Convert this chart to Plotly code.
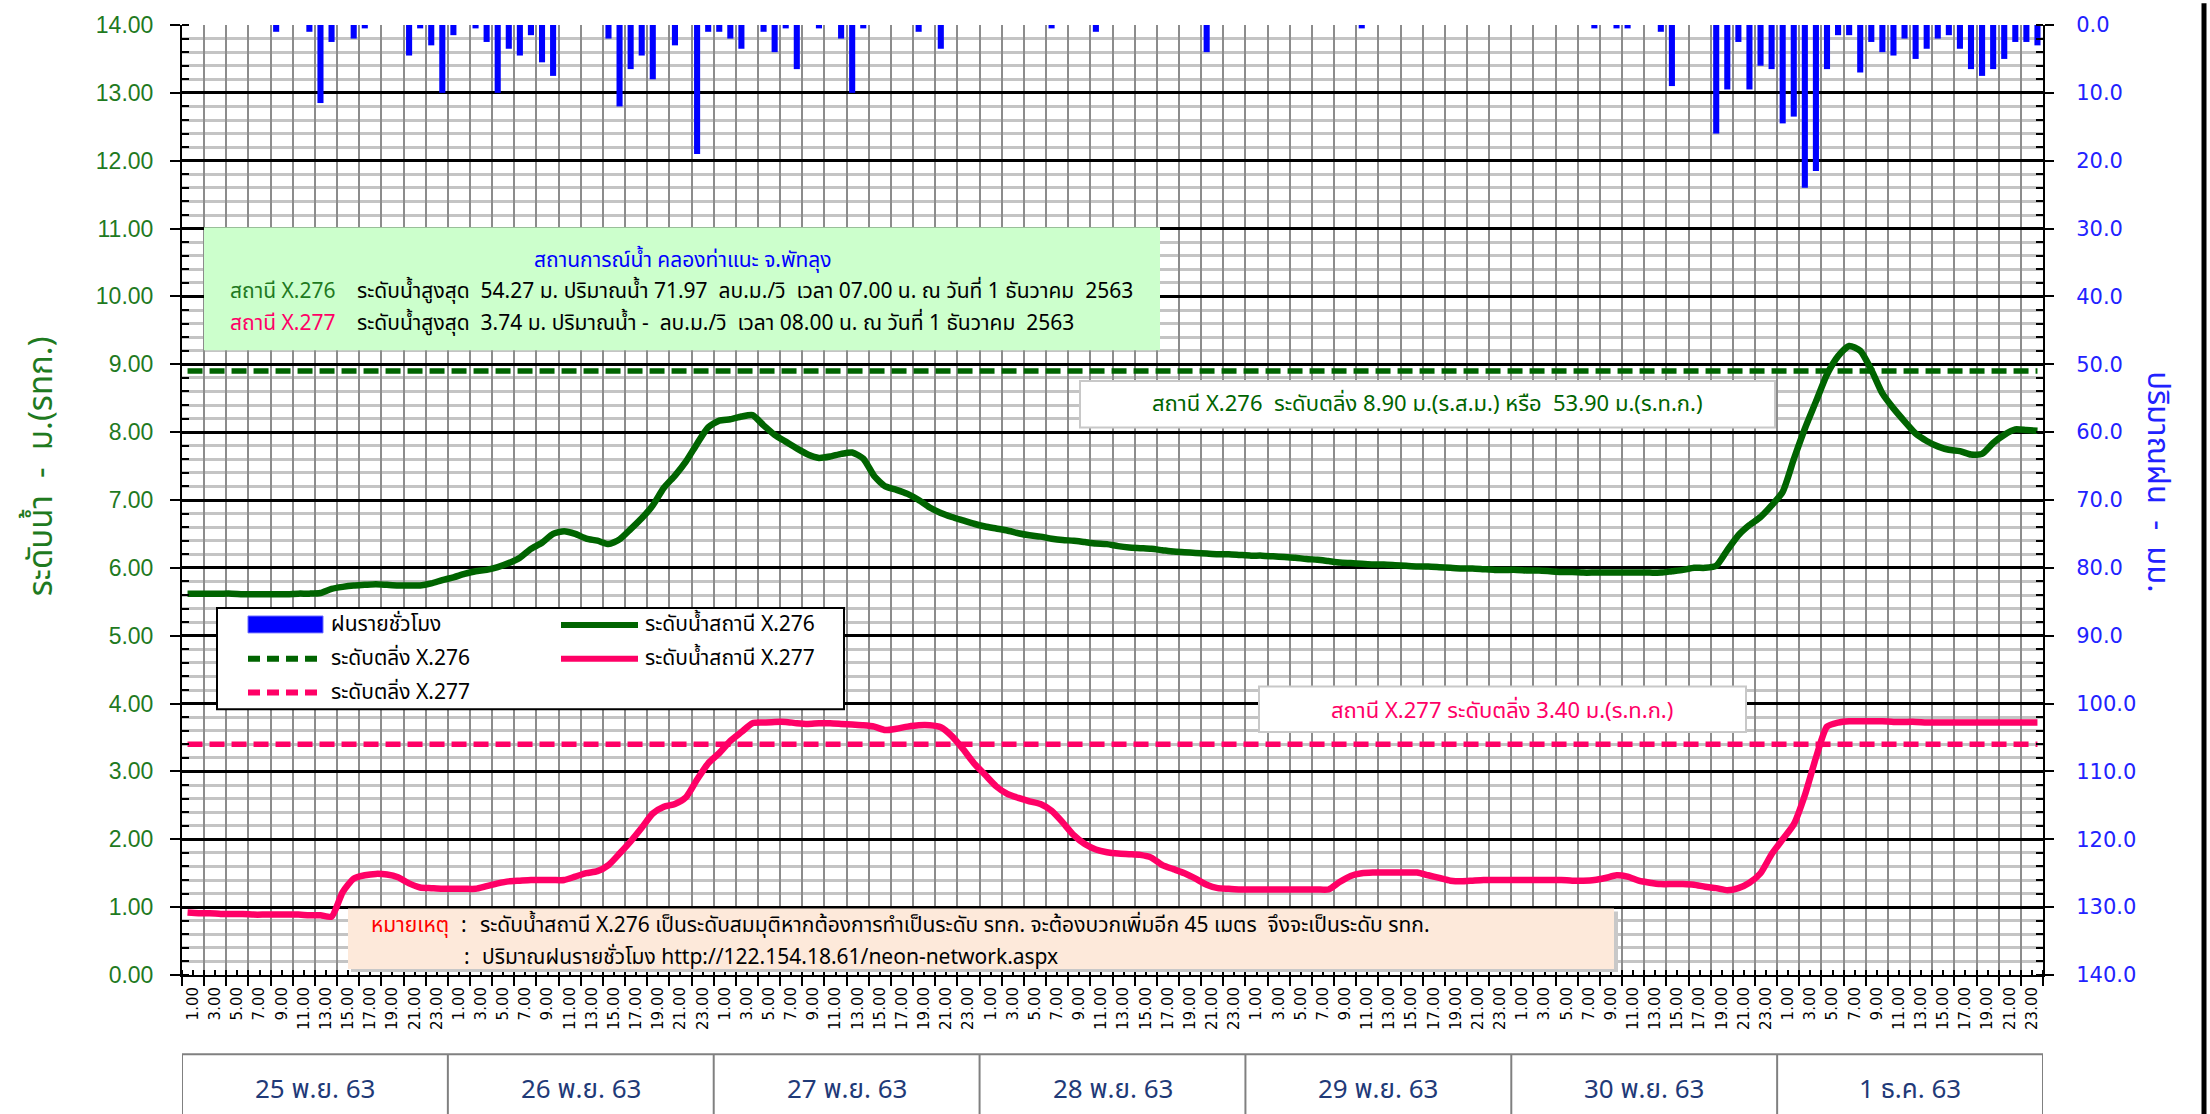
import plotly.graph_objects as go

# ---------------- data ----------------
day_labels = ["25 พ.ย. 63", "26 พ.ย. 63", "27 พ.ย. 63", "28 พ.ย. 63",
              "29 พ.ย. 63", "30 พ.ย. 63", "1 ธ.ค. 63"]
hour_labels = ["1.00", "3.00", "5.00", "7.00", "9.00", "11.00",
               "13.00", "15.00", "17.00", "19.00", "21.00", "23.00"]

# hourly rainfall (mm), 7 days x 24 h
rain = [
    0, 0, 0, 0, 0, 0, 0, 0, 1.0, 0, 0, 1.0, 11.5, 2.5, 0, 2.0, 0.5, 0, 0, 0, 4.5, 0.5, 3.0, 10.0,
    1.5, 0, 0.5, 2.5, 10.0, 3.5, 4.5, 1.5, 5.5, 7.5, 0, 0, 0, 0, 2.0, 12.0, 6.5, 4.5, 8.0, 0, 3.0, 0, 19.0, 1.0,
    1.0, 2.0, 3.5, 0, 1.0, 4.0, 0.5, 6.5, 0, 0.5, 0, 2.0, 10.0, 0.5, 0, 0, 0, 0, 1.0, 0, 3.5, 0, 0, 0,
    0, 0, 0, 0, 0, 0, 0.5, 0, 0, 0, 1.0, 0, 0, 0, 0, 0, 0, 0, 0, 0, 4.0, 0, 0, 0,
    0, 0, 0, 0, 0, 0, 0, 0, 0, 0, 0.5, 0, 0, 0, 0, 0, 0, 0, 0, 0, 0, 0, 0, 0,
    0, 0, 0, 0, 0, 0, 0, 0.5, 0, 0.5, 0.5, 0, 0, 1.0, 9.0, 0, 0, 0, 16.0, 9.5, 2.5, 9.5, 6.0, 6.5,
    14.5, 13.5, 24.0, 21.5, 6.5, 1.5, 1.5, 7.0, 2.5, 4.0, 4.5, 2.0, 5.0, 3.5, 2.0, 1.5, 3.5, 6.5, 7.5, 6.5, 5.0, 2.5, 2.5, 3.0,
]

# water level station X.276 (m)
level_x276 = [
    5.62, 5.62, 5.62, 5.62, 5.62, 5.61, 5.61, 5.61, 5.61, 5.61, 5.62, 5.62, 5.63, 5.69, 5.72, 5.74, 5.75, 5.76, 5.75, 5.74, 5.74, 5.74, 5.77, 5.82,
    5.86, 5.91, 5.95, 5.97, 6.01, 6.07, 6.15, 6.28, 6.37, 6.50, 6.54, 6.50, 6.43, 6.40, 6.35, 6.42, 6.57, 6.73, 6.92, 7.18, 7.36, 7.57, 7.83, 8.07,
    8.17, 8.19, 8.23, 8.25, 8.10, 7.96, 7.86, 7.76, 7.67, 7.62, 7.64, 7.68, 7.70, 7.61, 7.35, 7.20, 7.15, 7.09, 7.00, 6.89, 6.81, 6.75, 6.70, 6.65,
    6.61, 6.58, 6.55, 6.51, 6.48, 6.46, 6.43, 6.41, 6.40, 6.38, 6.36, 6.35, 6.32, 6.30, 6.29, 6.28, 6.26, 6.24, 6.23, 6.22, 6.21, 6.20, 6.20, 6.19,
    6.18, 6.18, 6.17, 6.16, 6.15, 6.13, 6.12, 6.10, 6.08, 6.07, 6.06, 6.05, 6.05, 6.04, 6.03, 6.02, 6.02, 6.01, 6.00, 5.99, 5.99, 5.98, 5.97, 5.97,
    5.97, 5.96, 5.96, 5.95, 5.94, 5.94, 5.93, 5.93, 5.93, 5.93, 5.93, 5.93, 5.93, 5.93, 5.95, 5.97, 6.00, 6.00, 6.03, 6.26, 6.48, 6.63, 6.75, 6.92,
    7.12, 7.60, 8.05, 8.45, 8.85, 9.12, 9.27, 9.20, 8.92, 8.57, 8.35, 8.16, 7.98, 7.87, 7.79, 7.74, 7.72, 7.67, 7.68, 7.84, 7.96, 8.04, 8.03, 8.02,
]

# water level station X.277 (m)
level_x277 = [
    0.92, 0.91, 0.91, 0.90, 0.90, 0.90, 0.89, 0.89, 0.89, 0.89, 0.89, 0.88, 0.88, 0.86, 1.22, 1.42, 1.47, 1.49, 1.48, 1.44, 1.35, 1.29, 1.28, 1.27,
    1.27, 1.27, 1.27, 1.31, 1.35, 1.38, 1.39, 1.40, 1.40, 1.40, 1.40, 1.45, 1.50, 1.53, 1.62, 1.79, 1.97, 2.17, 2.38, 2.48, 2.52, 2.62, 2.88, 3.12,
    3.27, 3.45, 3.58, 3.71, 3.72, 3.73, 3.73, 3.71, 3.70, 3.71, 3.71, 3.70, 3.69, 3.68, 3.66, 3.61, 3.63, 3.66, 3.68, 3.68, 3.65, 3.52, 3.33, 3.12,
    2.95, 2.78, 2.67, 2.61, 2.56, 2.52, 2.42, 2.25, 2.06, 1.93, 1.85, 1.81, 1.79, 1.78, 1.77, 1.73, 1.62, 1.56, 1.50, 1.42, 1.33, 1.28, 1.27, 1.26,
    1.26, 1.26, 1.26, 1.26, 1.26, 1.26, 1.26, 1.26, 1.37, 1.46, 1.50, 1.51, 1.51, 1.51, 1.51, 1.51, 1.47, 1.43, 1.39, 1.38, 1.39, 1.40, 1.40, 1.40,
    1.40, 1.40, 1.40, 1.40, 1.40, 1.39, 1.39, 1.40, 1.43, 1.47, 1.45, 1.39, 1.36, 1.34, 1.34, 1.34, 1.33, 1.30, 1.28, 1.25, 1.28, 1.36, 1.50, 1.78,
    2.00, 2.22, 2.65, 3.20, 3.66, 3.72, 3.74, 3.74, 3.74, 3.74, 3.73, 3.73, 3.73, 3.72, 3.72, 3.72, 3.72, 3.72, 3.72, 3.72, 3.72, 3.72, 3.72, 3.72,
]

bank_x276 = 8.90
bank_x277 = 3.40

hours = list(range(len(rain)))
n_days = len(day_labels)

# ---------------- styling helpers ----------------
L, R, T, B = 182, 2043, 17, 975          # plot area in page pixels
W, H = 2210, 1114

def pxx(x):
    return (x - L) / (R - L)

def pxy(y):
    return (B - y) / (B - T)

THAI = "Noto Sans Thai, Noto Sans, DejaVu Sans, sans-serif"
GREEN = "#006400"
GREEN_TXT = "#1f7a1f"
PINK = "#ff0066"
BLUE = "#0000ff"

fig = go.Figure()

fig.add_trace(go.Bar(x=hours, y=rain, xaxis="x2", yaxis="y2", width=0.55,
                     marker=dict(color=BLUE, line=dict(width=0)), name="ฝนรายชั่วโมง"))
fig.add_trace(go.Scatter(x=hours, y=[bank_x276] * len(hours), mode="lines",
                         line=dict(color=GREEN, width=5.5, dash="15px,7px"), name="ระดับตลิ่ง X.276"))
fig.add_trace(go.Scatter(x=hours, y=[bank_x277] * len(hours), mode="lines",
                         line=dict(color=PINK, width=5.5, dash="15px,7px"), name="ระดับตลิ่ง X.277"))
fig.add_trace(go.Scatter(x=hours, y=level_x277, mode="lines",
                         line=dict(color=PINK, width=6.5, shape="spline", smoothing=0.6),
                         name="ระดับน้ำสถานี X.277"))
fig.add_trace(go.Scatter(x=hours, y=level_x276, mode="lines",
                         line=dict(color=GREEN, width=6.5, shape="spline", smoothing=0.6),
                         name="ระดับน้ำสถานี X.276"))

tick_pos = [2 * k + 0.5 for k in range(len(hour_labels) * n_days)]
tick_txt = hour_labels * n_days

fig.update_layout(
    width=W, height=H,
    margin=dict(l=L, r=W - R, t=T, b=H - B),
    plot_bgcolor="white", paper_bgcolor="white",
    showlegend=False,
    xaxis=dict(range=[-0.5, 167.5], tickmode="linear", tick0=-0.5, dtick=2,
               ticks="outside", ticklen=9, tickwidth=2, tickcolor="black",
               showgrid=True, gridcolor="#8c8c8c", gridwidth=2,
               showticklabels=False, showline=True, linecolor="black", linewidth=2,
               zeroline=False,
               minor=dict(tick0=-0.5, dtick=1, ticks="inside", ticklen=5, tickwidth=2,
                          tickcolor="black", showgrid=False)),
    xaxis2=dict(overlaying="x", range=[-0.5, 167.5], tickmode="array",
                tickvals=tick_pos, ticktext=tick_txt, tickangle=-90, ticks="",
                showgrid=False, showline=False, zeroline=False, side="bottom",
                tickfont=dict(family="DejaVu Sans", size=15, color="black"),
                ticklabelstandoff=8),
    yaxis=dict(range=[0, 14], tickmode="linear", tick0=0, dtick=1, tickformat=".2f",
               ticks="outside", ticklen=10, tickwidth=2, tickcolor="black",
               showgrid=True, gridcolor="black", gridwidth=2.5,
               showline=True, linecolor="black", linewidth=2, zeroline=False,
               tickfont=dict(family="Liberation Sans Narrow, Liberation Sans", size=23, color=GREEN_TXT),
               ticklabelstandoff=12,
               minor=dict(tick0=0, dtick=0.2, ticks="inside", ticklen=7, tickwidth=2,
                          tickcolor="black", showgrid=True, gridcolor="#c4c4c4", gridwidth=2.5)),
    yaxis2=dict(overlaying="y", side="right", range=[140, 0], tickmode="linear",
                tick0=0, dtick=10, tickformat=".1f",
                ticks="outside", ticklen=9, tickwidth=2, tickcolor="black",
                showgrid=False, showline=True, linecolor="black", linewidth=2, zeroline=False,
                tickfont=dict(family="DejaVu Sans", size=21, color="#2222ff"),
                ticklabelstandoff=18,
                minor=dict(tick0=0, dtick=2, ticks="inside", ticklen=7, tickwidth=2,
                           tickcolor="black", showgrid=False)),
)

shapes = []
ann = []

def rect(x0, y0, x1, y1, fill, line_color=None, lw=0):
    shapes.append(dict(type="rect", xref="paper", yref="paper",
                       x0=pxx(x0), x1=pxx(x1), y0=pxy(y1), y1=pxy(y0),
                       fillcolor=fill, layer="above",
                       line=dict(color=line_color or fill, width=lw)))

def hline(x0, x1, y, color, width, dash="solid"):
    shapes.append(dict(type="line", xref="paper", yref="paper",
                       x0=pxx(x0), x1=pxx(x1), y0=pxy(y), y1=pxy(y), layer="above",
                       line=dict(color=color, width=width, dash=dash)))

def text(x, y, s, color="black", size=21, anchor="left", family=THAI, angle=0):
    ann.append(dict(xref="paper", yref="paper", x=pxx(x), y=pxy(y), text=s,
                    showarrow=False, xanchor=anchor, yanchor="middle", textangle=angle,
                    font=dict(family=family, size=size, color=color)))

# info box
rect(204, 221, 1160, 345, "#ccffcc")
text(683, 254, "สถานการณ์น้ำ คลองท่าแนะ จ.พัทลุง", color=BLUE, size=21, anchor="center")
text(228, 286, "สถานี X.276", color=GREEN_TXT)
text(355, 286, "ระดับน้ำสูงสุด  54.27 ม. ปริมาณน้ำ 71.97  ลบ.ม./วิ  เวลา 07.00 น. ณ วันที่ 1 ธันวาคม  2563")
text(228, 318, "สถานี X.277", color=PINK)
text(355, 318, "ระดับน้ำสูงสุด  3.74 ม. ปริมาณน้ำ -  ลบ.ม./วิ  เวลา 08.00 น. ณ วันที่ 1 ธันวาคม  2563")

# bank level boxes
rect(1080, 376, 1775, 423, "white", "#c8c8c8", 2)
text(1427, 400, "สถานี X.276  ระดับตลิ่ง 8.90 ม.(ร.ส.ม.) หรือ  53.90 ม.(ร.ท.ก.)", color=GREEN, size=22, anchor="center")
rect(1259, 684, 1746, 730, "white", "#c8c8c8", 2)
text(1502, 709, "สถานี X.277 ระดับตลิ่ง 3.40 ม.(ร.ท.ก.)", color=PINK, size=22, anchor="center")

# note box (with shadow)
rect(351, 911, 1618, 972, "#c8c8c8")
rect(348, 908, 1614, 969, "#fde9da")
text(369, 925, "หมายเหตุ", color="#ff0000")
text(459, 925, ":")
text(478, 925, "ระดับน้ำสถานี X.276 เป็นระดับสมมุติหากต้องการทำเป็นระดับ รทก. จะต้องบวกเพิ่มอีก 45 เมตร  จึงจะเป็นระดับ รทก.")
text(462, 957, ":")
text(480, 957, "ปริมาณฝนรายชั่วโมง http://122.154.18.61/neon-network.aspx")

# legend
rect(217, 605, 844, 707, "white", "black", 2)
rect(248, 613, 323, 630, BLUE, "#6a6aff", 1)
text(329, 622, "ฝนรายชั่วโมง")
hline(561, 638, 622, GREEN, 6)
text(643, 622, "ระดับน้ำสถานี X.276")
hline(248, 323, 656, GREEN, 6, "12px,7px")
text(329, 656, "ระดับตลิ่ง X.276")
hline(561, 638, 656, PINK, 6)
text(643, 656, "ระดับน้ำสถานี X.277")
hline(248, 323, 690, PINK, 6, "12px,7px")
text(329, 690, "ระดับตลิ่ง X.277")

# axis titles
text(42, 462, "ระดับน้ำ  -  ม.(รทก.)", color=GREEN_TXT, size=33, anchor="center", angle=-90)
text(2158, 478, "ปริมาณฝน  -  มม.", color="#2222ff", size=31, anchor="center", angle=90)

# date row under the axis
shapes.append(dict(type="line", xref="paper", yref="paper", x0=0, x1=1,
                   y0=pxy(1055), y1=pxy(1055), line=dict(color="#808080", width=2)))
for d in range(n_days + 1):
    xb = -0.5 + 24 * d
    shapes.append(dict(type="line", xref="x", yref="paper", x0=xb, x1=xb,
                       y0=pxy(1055), y1=pxy(1120), line=dict(color="#808080", width=2)))
for d, lab in enumerate(day_labels):
    ann.append(dict(xref="x", yref="paper", x=11.5 + 24 * d, y=pxy(1091), text=lab,
                    showarrow=False, xanchor="center", yanchor="middle",
                    font=dict(family=THAI, size=26, color="#1f3a78")))

# page border line at right
shapes.append(dict(type="line", xref="paper", yref="paper", x0=pxx(2204), x1=pxx(2204),
                   y0=pxy(-5), y1=pxy(1120), line=dict(color="black", width=5)))

fig.update_layout(shapes=shapes, annotations=ann)

fig.write_html("out.html", config={"displayModeBar": False},
               post_script="document.body.style.margin='0';")
